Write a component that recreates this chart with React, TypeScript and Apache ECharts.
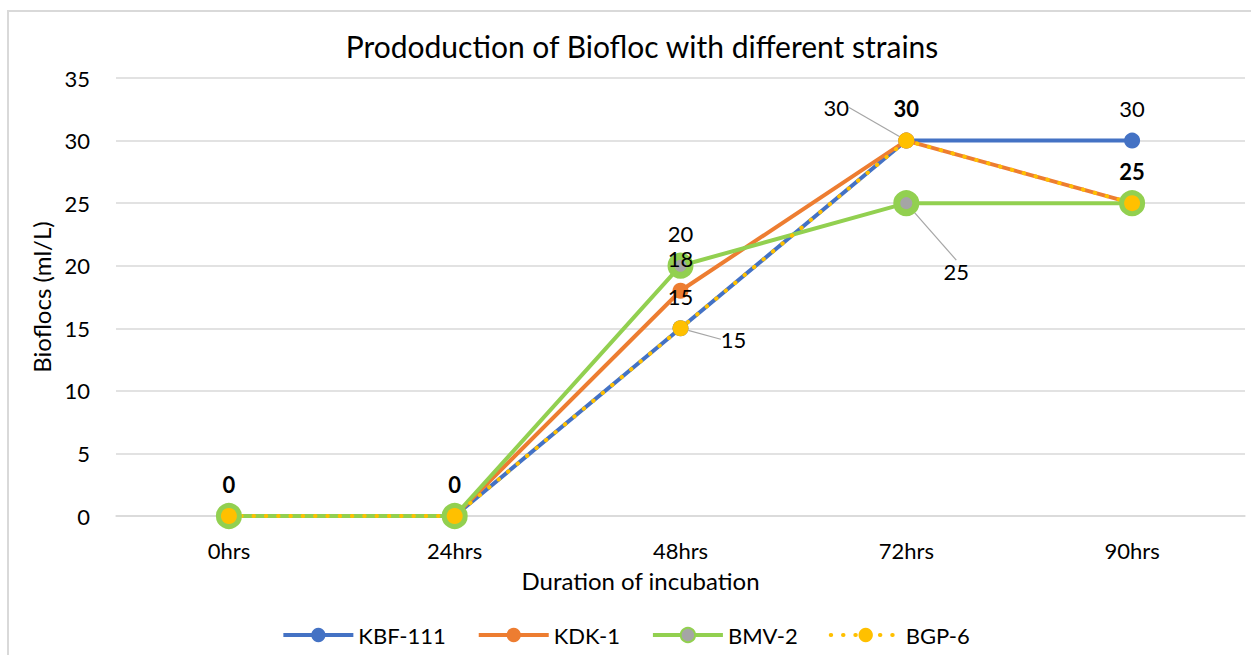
import React, { useEffect, useRef } from "react";
import * as echarts from "echarts";

const categories = ["0hrs", "24hrs", "48hrs", "72hrs", "90hrs"];
const seriesNames = ["KBF-111", "KDK-1", "BMV-2", "BGP-6"];
const kbf111 = [0, 0, 15, 30, 30];
const kdk1 = [0, 0, 18, 30, 25];
const bmv2 = [0, 0, 20, 25, 25];
const bgp6 = [0, 0, 15, 30, 25];
const yTicks = { min: 0, max: 35, interval: 5 };

// label display per point: "n" normal, "b" bold (coincident labels), "-" hidden under another, "g" moved with guide line
const kbfLabels = ["-", "-", "n", "-", "n"];
const kdkLabels = ["-", "-", "n", "b", "b"];
const bmvLabels = ["-", "-", "n", "g", "-"];
const bgpLabels = ["b", "b", "g", "g", "-"];

const FONT = "Lato";

export default function App() {
  const ref = useRef<HTMLDivElement>(null);
  useEffect(() => {
    document.body.style.margin = "0";
    const chart = echarts.init(ref.current!, null, { renderer: "svg" });
    const mkLabel = (distance: number) => ({
      show: true,
      position: "top" as const,
      distance,
      color: "#000",
      fontFamily: FONT,
      fontSize: 22,
    });
    const guide = { show: true, lineStyle: { color: "#A6A6A6", width: 1.2 } };
    const mkData = (vals: number[], modes: string[]) =>
      vals.map((v, i) => ({
        value: v,
        label:
          modes[i] === "-"
            ? { show: false }
            : { show: true, fontWeight: modes[i] === "b" ? "bold" : "normal" },
        labelLine: modes[i] === "g" ? guide : { show: false },
      }));
    chart.setOption({
      animation: false,
      backgroundColor: "#fff",
      textStyle: { fontFamily: FONT },
      title: {
        text: "Prododuction of Biofloc with different strains",
        left: 637,
        textAlign: "center",
        top: 26,
        textStyle: { fontFamily: FONT, fontSize: 30, fontWeight: "normal", color: "#000" },
      },
      graphic: [
        {
          type: "rect",
          shape: { x: 8, y: 11, width: 1260, height: 660 },
          style: { fill: "none", stroke: "#D9D9D9", lineWidth: 2 },
          silent: true,
        },
      ],
      legend: {
        bottom: 4,
        left: "center",
        itemWidth: 70,
        itemHeight: 18,
        itemGap: 31,
        lineStyle: { width: 4 },
        textStyle: { fontFamily: FONT, fontSize: 22, color: "#000" },
        data: seriesNames,
      },
      grid: { left: 116, right: 6, top: 78, bottom: 139 },
      xAxis: {
        type: "category",
        data: categories,
        boundaryGap: true,
        name: "Duration of incubation",
        nameLocation: "middle",
        nameGap: 52,
        nameTextStyle: { fontFamily: FONT, fontSize: 24, color: "#000", padding: [0, 80, 0, 0] },
        axisLine: { lineStyle: { color: "#D9D9D9", width: 1.5 } },
        axisTick: { show: false },
        axisLabel: { margin: 23, fontFamily: FONT, fontSize: 22, color: "#000" },
      },
      yAxis: {
        type: "value",
        min: yTicks.min,
        max: yTicks.max,
        interval: yTicks.interval,
        name: "Bioflocs (ml/L)",
        nameLocation: "middle",
        nameGap: 63,
        nameTextStyle: { fontFamily: FONT, fontSize: 24, color: "#000" },
        axisLine: { show: false },
        axisTick: { show: false },
        axisLabel: { margin: 26, fontFamily: FONT, fontSize: 22, color: "#000" },
        splitLine: { lineStyle: { color: "#D9D9D9", width: 1.5 } },
      },
      series: [
        {
          name: "KBF-111",
          type: "line",
          data: mkData(kbf111, kbfLabels),
          symbol: "circle",
          symbolSize: 16,
          itemStyle: { color: "#4472C4" },
          lineStyle: { color: "#4472C4", width: 4 },
          label: mkLabel(13),
        },
        {
          name: "KDK-1",
          type: "line",
          data: mkData(kdk1, kdkLabels),
          symbol: "circle",
          symbolSize: 16,
          itemStyle: { color: "#ED7D31" },
          lineStyle: { color: "#ED7D31", width: 4 },
          label: mkLabel(13),
        },
        {
          name: "BMV-2",
          type: "line",
          data: mkData(bmv2, bmvLabels),
          symbol: "circle",
          symbolSize: 19,
          itemStyle: { color: "#A5A5A5", borderColor: "#92D050", borderWidth: 7 },
          lineStyle: { color: "#92D050", width: 4 },
          label: mkLabel(8),
          labelLayout: (p: any) => (p.dataIndex === 3 ? { dx: 50, dy: 100 } : {}),
        },
        {
          name: "BGP-6",
          type: "line",
          data: mkData(bgp6, bgpLabels),
          symbol: "circle",
          symbolSize: 16,
          itemStyle: { color: "#FFC000" },
          lineStyle: { color: "#FFC000", width: 4, type: [0.5, 11.8], cap: "round" },
          label: mkLabel(13),
          labelLayout: (p: any) =>
            p.dataIndex === 2
              ? { dx: 53, dy: 43 }
              : p.dataIndex === 3
              ? { dx: -70, dy: -1 }
              : {},
        },
      ],
    });
    return () => chart.dispose();
  }, []);
  return <div ref={ref} style={{ width: 1251, height: 655 }} />;
}
